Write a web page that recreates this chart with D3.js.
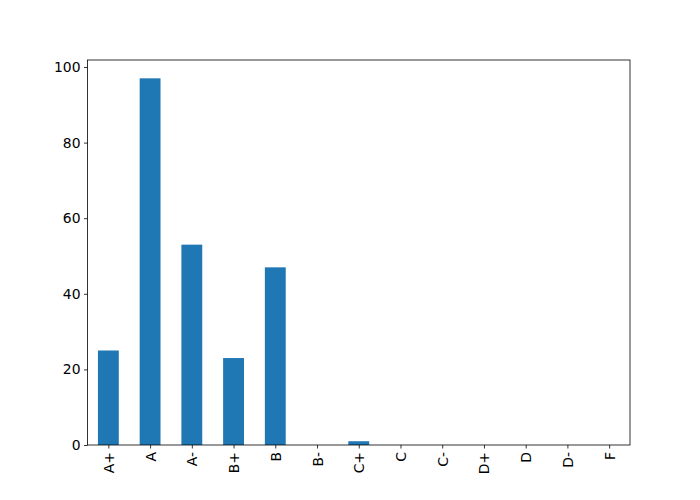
<!DOCTYPE html>
<html><head><meta charset="utf-8">
<script src="https://cdn.jsdelivr.net/npm/d3@7"></script>
<style>body{margin:0;background:#fff}svg{display:block}text{font-family:"DejaVu Sans",sans-serif}</style>
</head><body><svg id="c" width="700" height="500"></svg>
<script>
const categories = ["A+","A","A-","B+","B","B-","C+","C","C-","D+","D","D-","F"];
const values = [25,97,53,23,47,0,1,0,0,0,0,0,0];
const yTicks = [0,20,40,60,80,100];

const svg = d3.select("#c");
const L=87.5, R=630, T=60, B=445;
const x = d3.scaleLinear().domain([-0.5, categories.length-0.5]).range([L,R]);
const y = d3.scaleLinear().domain([0, d3.max(values)*1.05]).range([B,T]);
const bw = x(0.5)-x(0);

svg.append("rect").attr("width",700).attr("height",500).attr("fill","#fff");
svg.append("g").selectAll("rect").data(values).join("rect")
  .attr("x",(d,i)=>x(i-0.25)).attr("width",bw)
  .attr("y",d=>y(d)).attr("height",d=>B-y(d)).attr("fill","#1f77b4");

const fs = "13.9px";
const yAxis = svg.append("g").attr("transform",`translate(${L},0)`)
  .call(d3.axisLeft(y).tickValues(yTicks).tickSize(3.5).tickPadding(3.5));
yAxis.select(".domain").remove();
yAxis.selectAll("text").style("font-size",fs).attr("fill","#000");
yAxis.selectAll("line").attr("stroke","#000").attr("stroke-width",0.8);

const xAxis = svg.append("g").attr("transform",`translate(0,${B})`)
  .call(d3.axisBottom(x).tickValues(d3.range(categories.length)).tickFormat(i=>categories[i]).tickSize(3.5));
xAxis.select(".domain").remove();
xAxis.selectAll("line").attr("stroke","#000").attr("stroke-width",0.8);
xAxis.selectAll("text").style("font-size",fs).attr("fill","#000")
  .attr("text-anchor","end").attr("dy",null).attr("y",null)
  .attr("dominant-baseline","central")
  .attr("transform","translate(0,7) rotate(-90)");

svg.append("rect").attr("x",L).attr("y",T).attr("width",R-L).attr("height",B-T)
  .attr("fill","none").attr("stroke","#000").attr("stroke-width",0.8);
</script></body></html>
